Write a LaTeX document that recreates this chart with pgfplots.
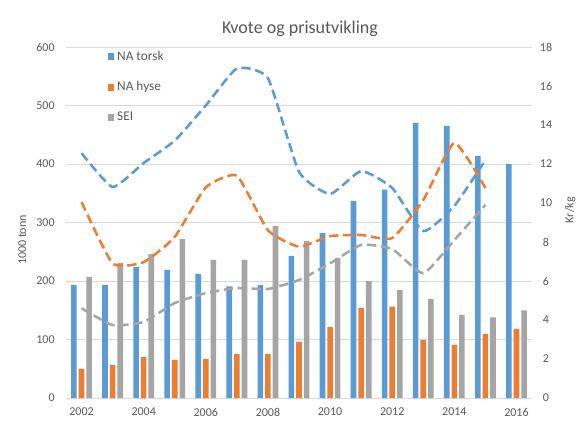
\documentclass[border=0pt]{standalone}
\usepackage{pgfplots}
\usepackage{pgfplotstable}
\pgfplotsset{compat=1.18}
\usepackage{fontspec}
\setmainfont{Carlito}
\definecolor{cblue}{HTML}{5B9BD5}
\definecolor{corange}{HTML}{ED7D31}
\definecolor{cgray}{HTML}{A5A5A5}
\definecolor{gridc}{HTML}{D9D9D9}
\definecolor{txt}{HTML}{595959}

\pgfplotstableread{
year torsk hyse sei
2002 193 50 207
2003 193 56 231
2004 224 70 246
2005 219 65 272
2006 212 67 236
2007 191 75 236
2008 193 75 294
2009 243 96 268
2010 282 121 239
2011 337 154 200
2012 356 156 185
2013 470 99 169
2014 465 91 142
2015 414 109 138
2016 400 118 150
}\bars

\pgfplotstableread{
year torsk hyse sei
2002 12.56 10.05 4.60
2003 10.82 6.90 3.74
2004 12.05 6.97 3.90
2005 13.20 8.26 4.87
2006 15.00 10.80 5.38
2007 16.90 11.40 5.64
2008 16.40 8.60 5.59
2009 11.60 7.76 6.05
2010 10.46 8.30 6.90
2011 11.64 8.36 7.85
2012 10.77 8.20 7.64
2013 8.56 10.15 6.40
2014 9.85 13.08 8.10
2015 12.20 10.77 9.90
}\prices

\pgfplotsset{
  common/.style={
    scale only axis, width=349.5pt, height=263.25pt,
    xmin=2001.5, xmax=2016.5,
    major tick length=0pt,
    axis line style={draw=none},
    tick label style={font=\fontsize{9}{11}\selectfont, text=txt},
    /pgf/number format/assume math mode=true,
    label style={font=\fontsize{9}{11}\selectfont, text=txt},
  },
  dline/.style={smooth, tension=0.3, line width=1.9pt, dash pattern=on 7pt off 3.5pt, no marks},
}

\begin{document}
\begin{tikzpicture}
\path[use as bounding box, fill=white] (-49.5pt,-20.25pt) rectangle (383.25pt,298.5pt);
\begin{axis}[
  common,
  ymin=0, ymax=600,
  ytick={0,100,...,600},
  xtick={2002,2004,...,2016},
  x tick label style={/pgf/number format/1000 sep={}, yshift=-4pt},
  y tick label style={xshift=-5pt},
  ymajorgrids, grid style={gridc, line width=0.75pt},
  ybar=1.5pt, bar width=4.2pt,
  ylabel={1000 tonn},
  ylabel style={at={(axis description cs:-0.094,0.45)}, anchor=center},
  title={Kvote og prisutvikling},
  title style={at={(axis description cs:0.502,1.028)}, anchor=center, font=\fontsize{13.5}{16}\selectfont, text=txt},
  legend style={at={(axis description cs:0.08,1.005)}, anchor=north west, draw=none, fill=none,
    font=\fontsize{10}{12}\selectfont, text=txt, row sep=10.5pt, legend cell align=left},
  legend image code/.code={\fill[#1,draw=none] (0pt,-2.6pt) rectangle (5.2pt,2.6pt);},
]
\addplot[fill=cblue, draw=none] table[x=year,y=torsk]{\bars};
\addlegendentry{NA torsk}
\addplot[fill=corange, draw=none] table[x=year,y=hyse]{\bars};
\addlegendentry{NA hyse}
\addplot[fill=cgray, draw=none] table[x=year,y=sei]{\bars};
\addlegendentry{SEI}
\end{axis}
\begin{axis}[
  common,
  ymin=0, ymax=18,
  ytick={0,2,...,18},
  axis y line*=right, axis x line=none,
  y tick label style={anchor=center, xshift=10.5pt},
  ylabel={Kr/kg},
  ylabel style={at={(axis description cs:1.082,0.535)}, anchor=center},
]
\addplot[cblue, dline] table[x=year,y=torsk]{\prices};
\addplot[corange, dline] table[x=year,y=hyse]{\prices};
\addplot[cgray, dline] table[x=year,y=sei]{\prices};
\end{axis}
\end{tikzpicture}
\end{document}
